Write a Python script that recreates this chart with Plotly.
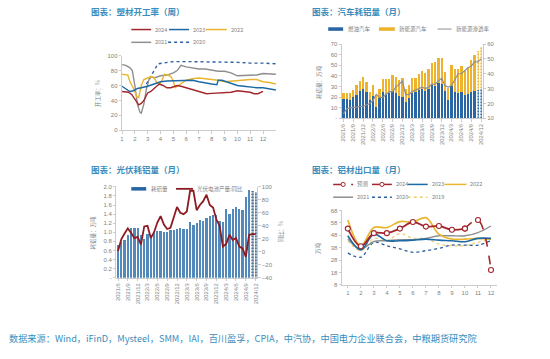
import plotly.graph_objects as go

W, H = 550, 359

# ---------------- Panel 1: 塑材开工率（周） ----------------
p1_x_2024 = [1, 1.25, 1.5, 1.75, 2.0, 2.3, 2.5, 2.7, 3.0, 3.25, 3.5, 3.9, 4.2, 4.5, 4.8, 5.0, 5.3, 5.6, 6.0, 6.3, 6.7, 7.0, 7.3, 7.6, 8.0, 8.5, 9.0, 9.5, 10.0, 10.5, 11.0, 11.3, 11.6, 12.0]
p1_y_2024 = [52, 52, 51, 48, 42, 34, 36, 40, 50, 52, 56, 62, 60, 57, 57, 58, 60, 59, 57, 56, 54, 53, 51, 49, 49.5, 50, 50, 51, 53, 52, 51, 49, 49, 52]
p1_x_2023 = [1, 1.3, 1.6, 1.9, 2.2, 2.5, 2.8, 3.0, 3.5, 4.0, 4.5, 5.0, 5.5, 6.0, 6.5, 7.0, 7.5, 8.0, 8.4, 8.5, 8.8, 9.0, 9.3, 9.6, 10.0, 10.5, 11.0, 11.5, 12.0, 12.5, 13.0]
p1_y_2023 = [59, 55, 52, 53, 56, 57, 58, 59, 62, 65, 66, 66, 67, 66, 67, 65, 63, 62, 61, 67, 67, 66, 64, 62, 60, 59, 58, 57, 57, 56, 54]
p1_x_2022 = [1, 1.2, 1.45, 1.6, 1.8, 2.0, 2.15, 2.3, 2.5, 2.7, 3.0, 3.3, 3.5, 3.7, 3.9, 4.1, 4.3, 4.6, 4.8, 5.0, 5.15, 5.4, 5.7, 6.0, 6.5, 7.0, 7.5, 8.0, 8.5, 9.0, 9.5, 10.0, 10.5, 11.0, 11.5, 12.0, 12.5, 13.0]
p1_y_2022 = [75, 75, 74, 66, 60, 52, 45, 44, 60, 68, 70, 72, 71, 64, 61, 66, 75, 74, 72, 66, 57, 60, 63, 67, 69, 70, 69, 68, 67, 65, 66, 67, 67, 68, 68, 65, 64, 62]
p1_x_2021 = [1, 1.3, 1.6, 1.8, 2.0, 2.2, 2.4, 2.5, 2.7, 2.9, 3.1, 3.3, 3.5, 3.8, 4.0, 4.5, 5.0, 5.3, 5.6, 6.0, 6.5, 7.0, 7.5, 8.0, 8.5, 9.0, 9.5, 10.0, 10.5, 11.0, 11.5, 12.0, 12.5, 13.0]
p1_y_2021 = [88, 87, 84, 80, 60, 35, 24, 23, 35, 55, 68, 72, 70, 72, 73, 74, 77, 80, 87, 85, 83, 82, 82, 80, 79, 79, 77, 73, 73, 73, 74, 76, 76, 75]
p1_x_2020 = [2.9, 3.2, 3.5, 3.8, 4.2, 4.6, 5.0, 6.0, 7.0, 8.0, 9.0, 10.0, 11.0, 12.0, 13.0]
p1_y_2020 = [62, 72, 80, 89, 90, 92, 92, 92, 92, 92, 91, 91, 90, 90, 89]
p1_ticks = [1, 2, 3, 4, 5, 6, 7, 8, 9, 10, 11, 12]

# ---------------- Panel 2 / 3 months ----------------
months = ["2021/%d" % m for m in range(6, 13)] + ["%d/%d" % (y, m) for y in (2022, 2023, 2024) for m in range(1, 13)]
month_ticks = months[::3]

# ---------------- Panel 2: 汽车耗铝量（月） ----------------
p2_ice = [18, 18, 17, 20, 22, 26, 28,
          25, 17, 21, 11, 19, 25, 23, 24, 26, 24, 21, 20,
          15, 19, 24, 25, 27, 28, 26, 28, 31, 30, 33, 32,
          26, 17, 30, 25, 24, 25, 22, 23, 25, 26, 27, 28]
p2_nev = [6, 6, 7, 7, 9, 9, 11,
          9, 8, 10, 10, 9, 12, 14, 13, 15, 15, 15, 18,
          13, 12, 14, 13, 15, 17, 17, 18, 21, 23, 24, 25,
          18, 12, 20, 21, 22, 24, 23, 25, 30, 34, 36, 39]
p2_pen = [13, 16.5, 17, 17, 17.5, 18, 18,
          19, 20, 22, 26, 24, 24, 26, 28, 28, 31, 33, 35,
          26, 26, 28, 29, 30, 31, 30, 31, 33, 33, 35, 37,
          32, 31, 32, 36, 40, 40, 42, 44, 45, 48, 48, 50]
p2_forecast = [False] * 41 + [True, True]

# ---------------- Panel 3: 光伏耗铝量（月） ----------------
p3_bar = [0.72, 0.78, 0.82, 0.95, 1.10, 1.10, 1.10,
          0.95, 0.85, 0.97, 0.95, 0.98, 1.02, 1.03, 1.00, 1.00, 1.04, 1.05, 1.08,
          1.10, 1.07, 1.07, 1.23, 1.17, 1.20, 1.26, 1.25, 1.32, 1.36, 1.38, 1.38,
          1.24, 1.22, 1.52, 1.40, 1.52, 1.55, 1.52, 1.50, 1.78, 1.93, 1.90, 1.88]
p3_yoy = [1, 19, 28, 36, 29, 21, 23, 11, 39, 40,
          21, 30, 45, 55, 42, 35, 37, 55, 69, 60,
          58, 62, 94, 94, 64, 72, 78, 88, 72, 68,
          50, 40, 8, 12, 26, 18, 21, 8, 5, -8,
          26, 27, 27]
p3_forecast = [False] * 41 + [True, True]

# ---------------- Panel 4: 铝材出口量（月） ----------------
p4_months = [1, 2, 3, 4, 5, 6, 7, 8, 9, 10, 11, 12]
p4_2024 = [53.4, 39.1, 49.7, 49.7, 53.4, 58.7, 55.0, 55.5, 52.4, 53.4, None, None]
p4_fcst = [None, None, None, None, None, None, None, None, None, 53.4, 60.3, 20.0]
p4_2023 = [47.6, 36.2, 48.9, 43.6, 43.6, 44.1, 44.9, 44.1, 43.6, 42.8, 45.5, 45.5]
p4_2022 = [60.3, 39.6, 54.2, 54.2, 59.0, 58.7, 62.2, 48.9, 44.9, 44.9, 45.5, 44.9]
p4_2021 = [44.9, 37.0, 43.0, 43.6, 44.4, 44.4, 45.5, 47.6, 47.6, 47.6, 50.2, 55.5]
p4_2020 = [33.8, 30.3, 42.3, 39.6, 37.0, 34.3, 35.6, 37.5, 40.1, 40.1, 40.1, 43.6]
p4_2019 = [43.6, 35.6, 45.5, 43.6, 49.4, 45.5, 45.5, 40.9, 39.6, 39.6, 42.3, 44.9]

# ---------------- styles ----------------
RED = "#A3262C"
BLUE = "#1B6AA5"
GOLD = "#E9B52F"
GREY = "#8E8E8E"
DBLUE = "#2B5F9E"
LGOLD = "#F0CF70"
BAR_BLUE = "#2A66A3"
BAR_GOLD = "#EDB22E"
PV_BLUE = "#5289BA"
MAROON = "#8E1B22"
TITLE_C = "#3A8DBC"
AX_C = "#BFBFBF"
TXT_C = "#7F7F7F"
CJK = "Noto Sans CJK SC"
LAT = "Liberation Sans"
TICKF = dict(family=LAT, size=6, color=TXT_C)


def px(x):
    return x / W


def py(y):
    return 1 - y / H


fig = go.Figure()

# Panel 1 traces
for xs, ys, c, d in [(p1_x_2020, p1_y_2020, DBLUE, "dot"), (p1_x_2021, p1_y_2021, GREY, "solid"),
                     (p1_x_2022, p1_y_2022, GOLD, "solid"), (p1_x_2023, p1_y_2023, BLUE, "solid"),
                     (p1_x_2024, p1_y_2024, RED, "solid")]:
    fig.add_trace(go.Scatter(x=xs, y=ys, mode="lines", line=dict(color=c, width=1.4, dash=d),
                             xaxis="x", yaxis="y", showlegend=False))

# Panel 2 traces
fig.add_trace(go.Bar(x=months, y=p2_ice, xaxis="x2", yaxis="y2", showlegend=False,
                     marker=dict(color=BAR_BLUE, line=dict(width=0),
                                 pattern=dict(shape=["." if f else "" for f in p2_forecast],
                                              fgcolor=BAR_BLUE, bgcolor="white", size=3, solidity=0.45,
                                              fillmode="replace"))))
fig.add_trace(go.Bar(x=months, y=p2_nev, xaxis="x2", yaxis="y2", showlegend=False,
                     marker=dict(color=BAR_GOLD, line=dict(width=0),
                                 pattern=dict(shape=["." if f else "" for f in p2_forecast],
                                              fgcolor=BAR_GOLD, bgcolor="white", size=3, solidity=0.45,
                                              fillmode="replace"))))
fig.add_trace(go.Scatter(x=months, y=p2_pen, mode="lines", line=dict(color=GREY, width=1.2),
                         xaxis="x2", yaxis="y3", showlegend=False))

# Panel 3 traces
fig.add_trace(go.Bar(x=months, y=p3_bar, xaxis="x3", yaxis="y4", showlegend=False,
                     marker=dict(color=PV_BLUE, line=dict(width=0),
                                 pattern=dict(shape=["." if f else "" for f in p3_forecast],
                                              fgcolor="#1F4E7A", bgcolor="white", size=3, solidity=0.45,
                                              fillmode="replace"))))
fig.add_trace(go.Scatter(x=months, y=p3_yoy, mode="lines", line=dict(color=MAROON, width=1.8),
                         xaxis="x3", yaxis="y5", showlegend=False))

# Panel 4 traces
for ys, c, d, w in [(p4_2019, LGOLD, "dot", 1.3), (p4_2020, DBLUE, "dot", 1.3), (p4_2021, GREY, "solid", 1.4),
                    (p4_2022, GOLD, "solid", 1.7), (p4_2023, BLUE, "solid", 1.6)]:
    fig.add_trace(go.Scatter(x=p4_months, y=ys, mode="lines", line=dict(color=c, width=w, dash=d, shape="spline"),
                             xaxis="x4", yaxis="y6", showlegend=False))
fig.add_trace(go.Scatter(x=p4_months, y=p4_fcst, mode="lines+markers",
                         line=dict(color=RED, width=1.6, dash="dash", shape="spline"),
                         marker=dict(symbol="circle", size=5, color="white", line=dict(color=RED, width=1.1)),
                         xaxis="x4", yaxis="y6", showlegend=False))
fig.add_trace(go.Scatter(x=p4_months, y=p4_2024, mode="lines+markers",
                         line=dict(color=RED, width=1.8, shape="spline"),
                         marker=dict(symbol="circle", size=5, color="white", line=dict(color=RED, width=1.1)),
                         xaxis="x4", yaxis="y6", showlegend=False))

# ---------------- decorations (titles, legends, footer) ----------------
shapes = []
ann = []


def text(x, y, s, size=5.5, color=TXT_C, anchor="left", angle=0, family=CJK):
    ann.append(dict(x=px(x), y=py(y), xref="paper", yref="paper", text=s, showarrow=False,
                    xanchor=anchor, yanchor="middle", textangle=angle,
                    font=dict(family=family, size=size, color=color)))


def leg_line(x0, x1, y, color, label, dash="solid", width=1.5, marker=False):
    shapes.append(dict(type="line", xref="paper", yref="paper", x0=px(x0), x1=px(x1), y0=py(y), y1=py(y),
                       line=dict(color=color, width=width, dash=dash)))
    if marker:
        xm = (x0 + x1) / 2
        shapes.append(dict(type="circle", xref="paper", yref="paper", x0=px(xm - 2.1), x1=px(xm + 2.1),
                           y0=py(y + 2.1), y1=py(y - 2.1), fillcolor="white", line=dict(color=color, width=1)))
    text(x1 + 2, y, label)


def leg_rect(x0, x1, y, color, label):
    shapes.append(dict(type="rect", xref="paper", yref="paper", x0=px(x0), x1=px(x1), y0=py(y + 1.8),
                       y1=py(y - 1.8), fillcolor=color, line=dict(width=0)))
    text(x1 + 2.5, y, label)


# titles
text(87, 8, "<b>图表：塑材开工率（周）</b>", size=8.5, color=TITLE_C)
text(310, 8, "<b>图表：汽车耗铝量（月）</b>", size=8.5, color=TITLE_C)
text(87, 169, "<b>图表：光伏耗铝量（月）</b>", size=8.5, color=TITLE_C)
text(310, 169, "<b>图表：铝材出口量（月）</b>", size=8.5, color=TITLE_C)

# panel 1 legend
leg_line(130, 150, 27, RED, "2024")
leg_line(168, 188, 27, BLUE, "2023")
leg_line(205, 226, 27, GOLD, "2022")
leg_line(130, 150, 40, GREY, "2021")
leg_line(167, 188, 40, DBLUE, "2020", dash="dot")

# panel 2 legend
leg_rect(328, 343, 26.5, BAR_BLUE, "燃油汽车")
leg_rect(379, 395, 26.5, BAR_GOLD, "新能源汽车")
leg_line(438, 452, 26.5, GREY, "新能源渗透率", width=1)

# panel 3 legend
leg_rect(130, 145, 189, BAR_BLUE, "耗铝量")
leg_line(175, 192, 189, MAROON, "光伏电池产量:同比", width=1.8)

# panel 4 legend
leg_line(333, 353, 184.5, RED, "预测", dash="dash", marker=True)
leg_line(372, 392, 184.5, RED, "2024", marker=True)
leg_line(408, 428, 184.5, BLUE, "2023")
leg_line(445, 467, 184.5, GOLD, "2022")
leg_line(333, 353, 197.5, GREY, "2021")
leg_line(372, 392, 197.5, DBLUE, "2020", dash="dot")
leg_line(408, 428, 197.5, LGOLD, "2019", dash="dot")

# axis titles
text(97, 92, "开工率：%", size=5.5, angle=-90, anchor="center")
text(318, 80, "耗铝量：万吨", size=5.5, angle=-90, anchor="center")
text(92, 233, "耗铝量：万吨", size=5.5, angle=-90, anchor="center")
text(281, 232, "同比：%", size=5.5, angle=-90, anchor="center")
text(318, 249, "万吨", size=5.5, angle=-90, anchor="center")

# footer
text(5, 341, "数据来源：Wind，iFinD，Mysteel，SMM，IAI，百川盈孚，CPIA，中汽协，中国电力企业联合会，中粮期货研究院",
     size=9.2, color=TITLE_C)

# ---------------- axes ----------------
base = dict(showline=True, linecolor=AX_C, linewidth=0.8, ticks="outside", ticklen=2.5, tickcolor=AX_C,
            tickwidth=0.8, showgrid=False, zeroline=False, tickfont=TICKF, fixedrange=True)

layout_axes = dict(
    xaxis=dict(base, domain=[px(120.7), px(276)], range=[1, 13.05], tickvals=p1_ticks, anchor="y"),
    yaxis=dict(base, domain=[py(129.5), py(53.5)], range=[0, 100], tickvals=[0, 20, 40, 60, 80, 100], anchor="x"),
    xaxis2=dict(base, domain=[px(341.7), px(483.3)], type="category", range=[-0.5, 42.5],
                tickvals=month_ticks, tickangle=-90, anchor="y2", tickfont=dict(TICKF, size=5.8)),
    yaxis2=dict(base, domain=[py(117.3), py(41.7)], range=[0, 70], tickvals=[0, 10, 20, 30, 40, 50, 60, 70],
                ticktext=["-", "10", "20", "30", "40", "50", "60", "70"], anchor="x2"),
    yaxis3=dict(base, overlaying="y2", side="right", range=[10, 60], tickvals=[10, 20, 30, 40, 50, 60],
                ticksuffix="%", anchor="x2"),
    xaxis3=dict(base, domain=[px(115), px(256.7)], type="category", range=[-0.5, 42.5],
                tickvals=month_ticks, tickangle=-90, anchor="y4", tickfont=dict(TICKF, size=5.8)),
    yaxis4=dict(base, domain=[py(279.3), py(187)], range=[0, 2.0],
                tickvals=[0, 0.2, 0.4, 0.6, 0.8, 1.0, 1.2, 1.4, 1.6, 1.8, 2.0],
                ticktext=["-", "0.2", "0.4", "0.6", "0.8", "1.0", "1.2", "1.4", "1.6", "1.8", "2.0"], anchor="x3"),
    yaxis5=dict(base, overlaying="y4", side="right", range=[-40, 100],
                tickvals=[-40, -20, 0, 20, 40, 60, 80, 100], anchor="x3"),
    xaxis4=dict(base, domain=[px(341.7), px(497.7)], range=[0.54, 12.46], tickvals=p4_months, anchor="y6"),
    yaxis6=dict(base, domain=[py(286.7), py(211)], range=[8, 68], tickvals=[8, 18, 28, 38, 48, 58, 68],
                anchor="x4"),
)

fig.update_layout(
    width=W, height=H, autosize=False,
    margin=dict(l=0, r=0, t=0, b=0),
    paper_bgcolor="white", plot_bgcolor="white",
    barmode="stack", bargap=0.3,
    showlegend=False,
    shapes=shapes, annotations=ann,
    **layout_axes,
)

fig.write_html("out.html", config={"displayModeBar": False, "staticPlot": True},
               post_script="document.body.style.margin='0';")
